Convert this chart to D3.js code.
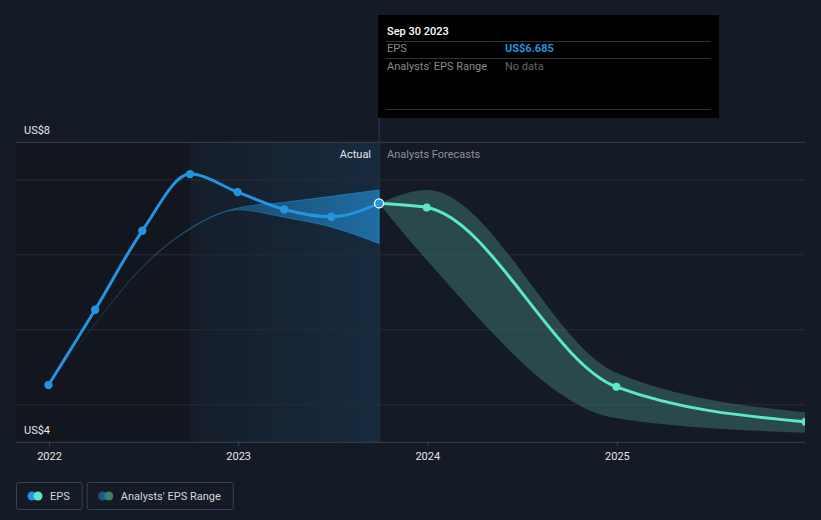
<!DOCTYPE html>
<html>
<head>
<meta charset="utf-8">
<script src="https://cdn.jsdelivr.net/npm/d3@7"></script>
<style>
  html, body { margin: 0; padding: 0; background: #151b26; }
  svg { display: block; font-family: Roboto, "Noto Sans", sans-serif; }
</style>
</head>
<body>
<svg id="chart" width="821" height="520"></svg>
<script>
// ---- data ----
const actualDates = ["2021-12-31","2022-03-31","2022-06-30","2022-09-30","2022-12-31","2023-03-31","2023-06-30","2023-09-30"];
const actualEPS   = [4.263, 5.267, 6.32, 7.076, 6.836, 6.605, 6.507, 6.685];
const pastRangeHigh = [4.263, 5.085, 5.84, 6.352, 6.625, 6.70, 6.78, 6.865];
const pastRangeLow  = [4.263, 5.075, 5.83, 6.342, 6.60, 6.50, 6.37, 6.15];
const forecastDates = ["2023-09-30","2023-12-31","2024-12-31","2025-12-31"];
const forecastEPS   = [6.685, 6.632, 4.24, 3.773];
const forecastHigh  = [6.685, 6.865, 4.427, 3.90];
const forecastLow   = [6.685, 5.93, 3.82, 3.627];
const yearTicks = ["2022","2023","2024","2025"];
const yLabels = [{text:"US$8", pos:"top"}, {text:"US$4", pos:"bottom"}];
const gridValues = [4, 5, 6, 7];
const tooltipDate = "Sep 30 2023";
const tooltipRows = [["EPS","US$6.685"],["Analysts' EPS Range","No data"]];
const legendItems = [
  {label:"EPS", c1:"#2394df", c2:"#5ce6cc"},
  {label:"Analysts' EPS Range", c1:"#1c5a87", c2:"#3c7c74"}
];

const parse = d3.timeParse("%Y-%m-%d");
const actual = actualDates.map((d,i)=>({date:parse(d), v:actualEPS[i], hi:pastRangeHigh[i], lo:pastRangeLow[i]}));
const forecast = forecastDates.map((d,i)=>({date:parse(d), v:forecastEPS[i], hi:forecastHigh[i], lo:forecastLow[i]}));

const svg = d3.select("#chart");
const pLeft = 16, pRight = 805, pTop = 142.3, pBottom = 442.3;

const x = d3.scaleTime().domain([new Date(2022,0,1), new Date(2026,0,1)]).range([49, 806]);
const y = d3.scaleLinear().domain([3.5, 7.5]).range([pBottom, pTop]);

const defs = svg.append("defs");
defs.append("clipPath").attr("id","plotclip").append("rect")
  .attr("x", pLeft).attr("y", 0).attr("width", pRight-pLeft).attr("height", pBottom);

const hl = defs.append("linearGradient").attr("id","hlgrad").attr("x1","0").attr("x2","1").attr("y1","0").attr("y2","0");
hl.append("stop").attr("offset","0").attr("stop-color","#2394df").attr("stop-opacity",0.02);
hl.append("stop").attr("offset","1").attr("stop-color","#2394df").attr("stop-opacity",0.13);

const pb = defs.append("linearGradient").attr("id","pastband").attr("gradientUnits","userSpaceOnUse")
  .attr("x1", x(actual[0].date)).attr("x2", x(actual[actual.length-1].date)).attr("y1",0).attr("y2",0);
pb.append("stop").attr("offset","0").attr("stop-color","#2394df").attr("stop-opacity",0.0);
pb.append("stop").attr("offset","0.45").attr("stop-color","#2394df").attr("stop-opacity",0.32);
pb.append("stop").attr("offset","1").attr("stop-color","#2394df").attr("stop-opacity",0.62);

// background regions
const lastActual = actual[actual.length-1].date;
const yearBefore = actual[3].date;
svg.append("rect").attr("x", pLeft).attr("y", pTop).attr("width", x(yearBefore)-pLeft).attr("height", pBottom-pTop)
  .attr("fill","#000").attr("fill-opacity",0.18);
svg.append("rect").attr("x", x(yearBefore)).attr("y", pTop).attr("width", x(lastActual)-x(yearBefore)).attr("height", pBottom-pTop)
  .attr("fill","url(#hlgrad)");

// gridlines
svg.append("g").selectAll("line").data(gridValues).join("line")
  .attr("x1", pLeft).attr("x2", pRight).attr("y1", d=>y(d)).attr("y2", d=>y(d))
  .attr("stroke","#262d38").attr("stroke-width",1);
svg.append("line").attr("x1",pLeft).attr("x2",pRight).attr("y1",pTop).attr("y2",pTop)
  .attr("stroke","#3b424d").attr("stroke-width",1);

// vertical divider
svg.append("line").attr("x1", x(lastActual)).attr("x2", x(lastActual)).attr("y1", 118).attr("y2", pBottom)
  .attr("stroke","#1f3244").attr("stroke-width",1.5);

const plot = svg.append("g").attr("clip-path","url(#plotclip)");

// past analyst band
const area = d3.area().x(d=>x(d.date)).y0(d=>y(d.lo)).y1(d=>y(d.hi)).curve(d3.curveMonotoneX);
plot.append("path").datum(actual).attr("d", area).attr("fill","url(#pastband)")
  .attr("stroke","url(#pastband)").attr("stroke-width",1);

// forecast band
plot.append("path").datum(forecast).attr("d", area).attr("fill","rgb(78,155,138)").attr("fill-opacity",0.36);

// lines
const line = d3.line().x(d=>x(d.date)).y(d=>y(d.v)).curve(d3.curveMonotoneX);
plot.append("path").datum(forecast).attr("d", line).attr("fill","none").attr("stroke","#5ce6cc").attr("stroke-width",3);
plot.append("path").datum(actual).attr("d", line).attr("fill","none").attr("stroke","#2394df").attr("stroke-width",3);

// points
plot.append("g").selectAll("circle").data(forecast.slice(1)).join("circle")
  .attr("cx", d=>x(d.date)).attr("cy", d=>y(d.v)).attr("r",4).attr("fill","#5ce6cc");
plot.append("g").selectAll("circle").data(actual.slice(0,-1)).join("circle")
  .attr("cx", d=>x(d.date)).attr("cy", d=>y(d.v)).attr("r",4.2).attr("fill","#2394df");
const la = actual[actual.length-1];
plot.append("circle").attr("cx", x(la.date)).attr("cy", y(la.v)).attr("r",4.5)
  .attr("fill","#2394df").attr("stroke","#ffffff").attr("stroke-width",1.3);

// axis
svg.append("line").attr("x1",pLeft).attr("x2",pRight).attr("y1",pBottom).attr("y2",pBottom)
  .attr("stroke","#3b424d").attr("stroke-width",1);
const xAxisG = svg.append("g").attr("transform",`translate(0,${pBottom})`)
  .call(d3.axisBottom(x).tickValues(yearTicks.map(t=>new Date(+t,0,1))).tickFormat(d3.timeFormat("%Y")).tickSize(4).tickPadding(6));
xAxisG.select(".domain").remove();
xAxisG.selectAll(".tick line").attr("stroke","#3b424d");
xAxisG.selectAll(".tick text").attr("fill","#e6e6e6").attr("font-size",11).attr("font-family","Roboto, sans-serif");

// y labels
svg.append("g").selectAll("text").data(yLabels).join("text")
  .attr("x", 24).attr("y", d=> d.pos==="top" ? pTop-8 : pBottom-8)
  .attr("fill","#e6e6e6").attr("font-size",11).text(d=>d.text);

// Actual / Forecast labels
svg.append("text").attr("x", x(lastActual)-8).attr("y", 158).attr("text-anchor","end")
  .attr("fill","#e6e6e6").attr("font-size",11).text("Actual");
svg.append("text").attr("x", x(lastActual)+8).attr("y", 158)
  .attr("fill","#8b9098").attr("font-size",11).text("Analysts Forecasts");

// tooltip
const tt = svg.append("g");
tt.append("rect").attr("x",378).attr("y",15).attr("width",341).attr("height",103).attr("fill","#000");
tt.append("text").attr("x",387).attr("y",35).attr("fill","#ffffff").attr("font-size",11).attr("font-weight",500).text(tooltipDate);
[41.5, 58.5, 109.5].forEach(yy=>{
  tt.append("line").attr("x1",386).attr("x2",711).attr("y1",yy).attr("y2",yy).attr("stroke","#333").attr("stroke-width",1);
});
tooltipRows.forEach((r,i)=>{
  const yy = 52 + i*18;
  tt.append("text").attr("x",387).attr("y",yy).attr("fill","#8a8a8a").attr("font-size",11).text(r[0]);
  tt.append("text").attr("x",505).attr("y",yy)
    .attr("fill", i===0 ? "#2394df" : "#666").attr("font-size",11)
    .attr("font-weight", i===0 ? 700 : 400).text(r[1]);
});

// legend
const lg = svg.append("g");
let lx = 16;
legendItems.forEach(it=>{
  const g = lg.append("g");
  const t = g.append("text").attr("x", lx+34).attr("y", 500).attr("fill","#d6d6d6").attr("font-size",11).text(it.label);
  const tw = t.node().getComputedTextLength();
  const w = 34 + tw + 12;
  g.insert("rect","text").attr("x", lx+0.5).attr("y", 482.5).attr("width", w).attr("height", 27).attr("rx",2)
    .attr("fill","none").attr("stroke","#3b424d").attr("stroke-width",1);
  g.append("circle").attr("cx", lx+16).attr("cy", 496).attr("r",4.5).attr("fill", it.c1);
  g.append("circle").attr("cx", lx+22).attr("cy", 496).attr("r",4.5).attr("fill", it.c2);
  lx += w + 5;
});
</script>
</body>
</html>
